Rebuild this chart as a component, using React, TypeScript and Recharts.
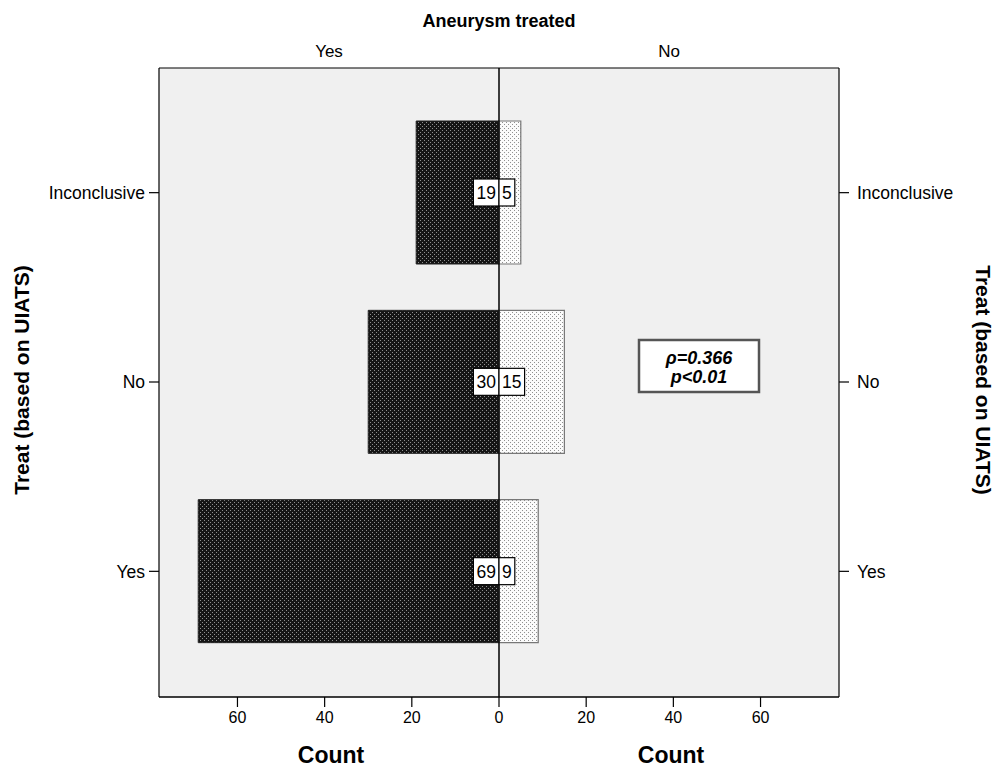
import React from 'react';
import { BarChart, Bar, XAxis, YAxis, CartesianGrid, ReferenceLine, LabelList } from 'recharts';

const categories = ['Inconclusive', 'No', 'Yes'];
const treatedYes = [19, 30, 69];
const treatedNo = [5, 15, 9];
const xTicks = [-60, -40, -20, 0, 20, 40, 60];

const data = categories.map((c, i) => ({
  cat: c,
  yes: -treatedYes[i],
  no: treatedNo[i],
  yesLabel: treatedYes[i],
  noLabel: treatedNo[i],
}));

const FONT = 'Arial, "Liberation Sans", sans-serif';

function makeLabel(side: 'left' | 'right') {
  return (props: any) => {
    const { x, y, width, height, value } = props;
    const xs = Number(x);
    const w = Number(width);
    const zero = side === 'left' ? Math.max(xs, xs + w) : Math.min(xs, xs + w);
    const txt = String(value);
    const bw = txt.length * 9.8 + 6;
    const bh = 27;
    const cy = Number(y) + Number(height) / 2;
    const bx = side === 'left' ? zero - bw : zero;
    return (
      <g>
        <rect x={bx} y={cy - bh / 2} width={bw} height={bh} fill="#fff" stroke="#000" strokeWidth={1.2} />
        <text x={bx + bw / 2} y={cy + 6.5} textAnchor="middle" fontFamily={FONT} fontSize={17.5} fill="#000">
          {txt}
        </text>
      </g>
    );
  };
}

const frameLines = (p: any) => {
  const o = p && p.offset ? p.offset : { top: 68, height: 629 };
  return [o.top, o.top + o.height];
};

export default function App() {
  const tickStyle = { fill: '#000', fontSize: 16, fontFamily: FONT };
  const yTickStyle = { fill: '#000', fontSize: 17.5, fontFamily: FONT };
  return (
    <div style={{ position: 'absolute', left: 0, top: 0, width: 1005, height: 770, background: '#fff' }}>
      <BarChart
        width={1005}
        height={770}
        data={data}
        layout="vertical"
        stackOffset="sign"
        barSize={143}
        margin={{ top: 68, right: 0, bottom: 33, left: 0 }}
      >
        <defs>
          <pattern id="darkPat" width="4" height="4" patternUnits="userSpaceOnUse">
            <rect width="4" height="4" fill="#151515" />
            <rect x="0" y="0" width="1" height="1" fill="#8f8f8f" />
            <rect x="2" y="2" width="1" height="1" fill="#8f8f8f" />
          </pattern>
          <pattern id="lightPat" width="4" height="4" patternUnits="userSpaceOnUse">
            <rect width="4" height="4" fill="#fbfbfb" />
            <rect x="0" y="0" width="1" height="1" fill="#8f8f8f" />
            <rect x="2" y="2" width="1" height="1" fill="#8f8f8f" />
          </pattern>
        </defs>
        <CartesianGrid
          fill="#f0f0f0"
          vertical={false}
          horizontal={true}
          stroke="#000"
          strokeWidth={1.2}
          horizontalCoordinatesGenerator={frameLines}
        />
        <XAxis
          type="number"
          domain={[-78, 78]}
          ticks={xTicks}
          allowDataOverflow
          tickFormatter={(v: number) => String(Math.abs(v))}
          height={40}
          tickSize={10}
          tickMargin={5}
          axisLine={{ stroke: '#000', strokeWidth: 1.2 }}
          tickLine={{ stroke: '#000', strokeWidth: 1.2 }}
          tick={tickStyle}
        />
        <YAxis
          type="category"
          dataKey="cat"
          width={159}
          tickSize={10}
          tickMargin={4}
          padding={{ top: 30, bottom: 31 }}
          axisLine={{ stroke: '#000', strokeWidth: 1.2 }}
          tickLine={{ stroke: '#000', strokeWidth: 1.2 }}
          tick={yTickStyle}
        />
        <YAxis
          yAxisId="right"
          orientation="right"
          type="category"
          dataKey="cat"
          width={166}
          tickSize={10}
          tickMargin={8}
          padding={{ top: 30, bottom: 31 }}
          axisLine={{ stroke: '#000', strokeWidth: 1.2 }}
          tickLine={{ stroke: '#000', strokeWidth: 1.2 }}
          tick={yTickStyle}
        />
        <Bar dataKey="yes" stackId="a" fill="url(#darkPat)" stroke="#222" strokeWidth={1} isAnimationActive={false}>
          <LabelList dataKey="yesLabel" content={makeLabel('left')} />
        </Bar>
        <Bar dataKey="no" stackId="a" fill="url(#lightPat)" stroke="#777" strokeWidth={1.2} isAnimationActive={false}>
          <LabelList dataKey="noLabel" content={makeLabel('right')} />
        </Bar>
        <ReferenceLine x={0} stroke="#000" strokeWidth={1.5} />
      </BarChart>
      <svg
        width={1005}
        height={770}
        style={{ position: 'absolute', left: 0, top: 0, pointerEvents: 'none' }}
      >
        <text x={499} y={27} textAnchor="middle" fontFamily={FONT} fontSize={18} fontWeight="bold" fill="#000">
          Aneurysm treated
        </text>
        <text x={329} y={57} textAnchor="middle" fontFamily={FONT} fontSize={17} fill="#000">Yes</text>
        <text x={669} y={57} textAnchor="middle" fontFamily={FONT} fontSize={17} fill="#000">No</text>
        <text x={331} y={763} textAnchor="middle" fontFamily={FONT} fontSize={23} fontWeight="bold" fill="#000">Count</text>
        <text x={671} y={763} textAnchor="middle" fontFamily={FONT} fontSize={23} fontWeight="bold" fill="#000">Count</text>
        <text
          x={0}
          y={0}
          transform="translate(29,380) rotate(-90)"
          textAnchor="middle"
          fontFamily={FONT}
          fontSize={21}
          fontWeight="bold"
          fill="#000"
        >
          Treat (based on UIATS)
        </text>
        <text
          x={0}
          y={0}
          transform="translate(976,380) rotate(90)"
          textAnchor="middle"
          fontFamily={FONT}
          fontSize={21}
          fontWeight="bold"
          fill="#000"
        >
          Treat (based on UIATS)
        </text>
        <rect x={639} y={340} width={120} height={52} fill="#fff" stroke="#555" strokeWidth={2.5} />
        <text x={699} y={364} textAnchor="middle" fontFamily={FONT} fontSize={18} fontWeight="bold" fontStyle="italic" fill="#000">
          ρ=0.366
        </text>
        <text x={699} y={383} textAnchor="middle" fontFamily={FONT} fontSize={18} fontWeight="bold" fontStyle="italic" fill="#000">
          p&lt;0.01
        </text>
      </svg>
    </div>
  );
}
